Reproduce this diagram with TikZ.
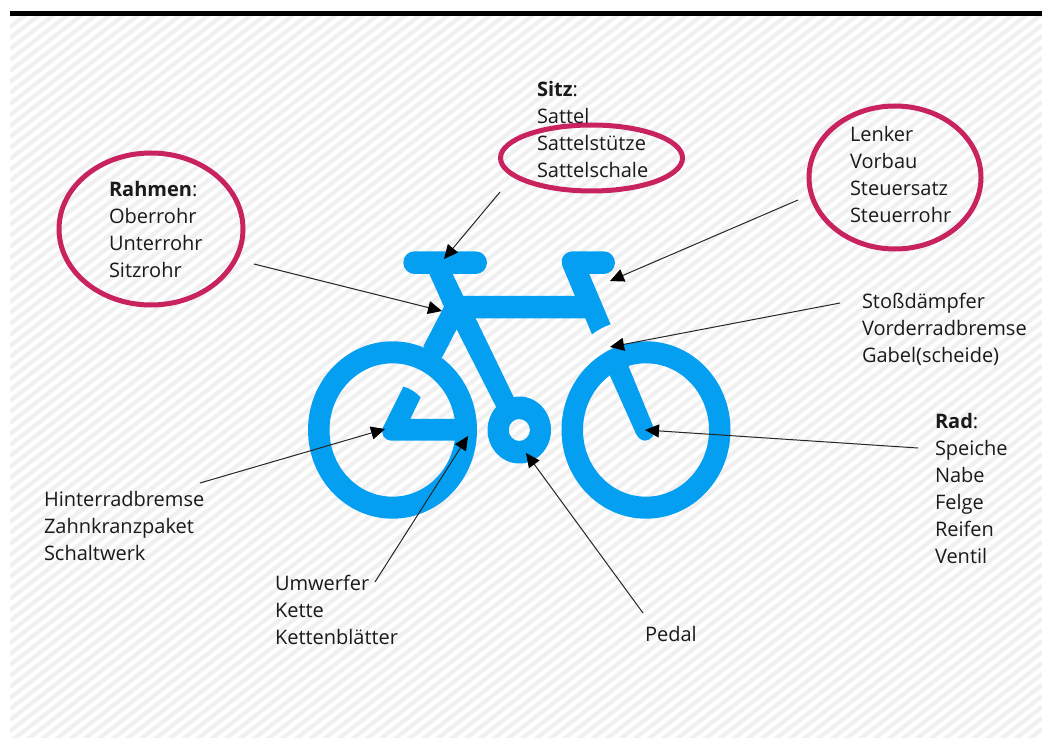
\documentclass[tikz,border=0pt]{standalone}
\usepackage{fontspec}
\setmainfont{Open Sans}
\usetikzlibrary{arrows.meta}
\definecolor{bikeblue}{HTML}{049FF1}
\definecolor{ringred}{HTML}{C8235F}
\definecolor{stripe}{HTML}{F0F0F0}
\definecolor{inktext}{HTML}{1A1A1A}
\tikzset{
  lbl/.style={anchor=north west,align=left,inner sep=0pt,outer sep=0pt,font=\fontsize{20pt}{27pt}\selectfont,text=inktext},
  ptr/.style={draw=black!85,line width=1pt,-{Triangle[length=14pt,width=13pt,color=black]}},
  ring/.style={draw=ringred,line width=5pt,fill=none},
  bike/.style={fill=bikeblue,draw=none,even odd rule},
  stripeline/.style={draw=stripe,line width=4.2pt}
}
\begin{document}
\begin{tikzpicture}[x=1pt,y=-1pt]
\useasboundingbox (0,0) rectangle (1042,738);
\fill[white] (0,0) rectangle (1042,738);
\begin{scope}
\clip (10,16) rectangle (1042,738);
\foreach \c in {16,27,...,1560}{
  \draw[stripeline] (10,\c) -- (1042,\c-805);
}
\end{scope}
\fill[black] (10,11) rectangle (1042,16);
% wheels and chainring
\fill[bike] (392.5,430) ellipse [x radius=84.5,y radius=88.7] (392.5,430) ellipse [x radius=63,y radius=66.7];
\fill[bike] (646,430) ellipse [x radius=84.5,y radius=88.7] (646,430) ellipse [x radius=63,y radius=66.7];
\fill[bike] (519.3,430) ellipse [x radius=31.7,y radius=33.5] (519.3,430) ellipse [x radius=10.6,y radius=11];
\begin{scope}[shift={(300,230)},x=0.3333pt,y=-0.3333pt]
% saddle, frame and handlebar
\fill[bike] (344,64) -- (527,64) arc[start angle=-90,end angle=90,x radius=34,y radius=34]
  -- (458,132) -- (490,198) -- (825,198) -- (788,110)
  .. controls (778,85) and (795,64) .. (820,64) -- (911,64)
  arc[start angle=-90,end angle=90,x radius=34,y radius=34]
  -- (868,132) -- (932,283) .. controls (912,290) and (893,300) .. (876,313)
  -- (856,265) -- (527,265) -- (642,503) -- (600,540) -- (588,530) -- (470,298) -- (427,381)
  -- (400,395) -- (370,349) -- (432,230) -- (388,132) -- (344,132)
  arc[start angle=90,end angle=270,x radius=34,y radius=34] -- cycle;
% rear stays
\fill[bike] (310,470) .. controls (330,475) and (348,487) .. (362,502) -- (331,567) -- (480,567) -- (480,632) -- (275,632)
  .. controls (252,632) and (240,610) .. (250,590) -- cycle;
% fork
\fill[bike] (930,437) -- (1003,600) .. controls (1012,625) and (1025,632) .. (1035,632)
  .. controls (1055,632) and (1068,612) .. (1060,590) -- (985,407) -- (960,395) -- cycle;
\end{scope}
% rings
\draw[ring] (151,229) ellipse [x radius=92,y radius=76];
\draw[ring] (591.5,158) ellipse [x radius=91,y radius=33];
\draw[ring] (895,177.5) ellipse [x radius=86,y radius=71.5];
% labels
\node[lbl] (rahmen) at (109,181) {\textbf{Rahmen}:\\Oberrohr\\Unterrohr\\Sitzrohr};
\node[lbl] (sitz) at (537,81) {\textbf{Sitz}:\\Sattel\\Sattelstütze\\Sattelschale};
\node[lbl] (lenker) at (850,126) {Lenker\\Vorbau\\Steuersatz\\Steuerrohr};
\node[lbl] (stoss) at (862,293) {Stoßdämpfer\\Vorderradbremse\\Gabel(scheide)};
\node[lbl] (rad) at (935,413) {\textbf{Rad}:\\Speiche\\Nabe\\Felge\\Reifen\\Ventil};
\node[lbl] (hinter) at (44,491) {Hinterradbremse\\Zahnkranzpaket\\Schaltwerk};
\node[lbl] (umwerfer) at (275,575) {Umwerfer\\Kette\\Kettenblätter};
\node[lbl] (pedal) at (645,626) {Pedal};
% connector ends
\coordinate (sStart) at (500,192); \coordinate (sTip) at (444,259);
\coordinate (lStart) at (798,200); \coordinate (lTip) at (610,281);
\coordinate (rStart) at (254,264); \coordinate (rTip) at (442,311);
\coordinate (gStart) at (840,303); \coordinate (gTip) at (610,347);
\coordinate (dStart) at (918,448); \coordinate (dTip) at (645,430);
\coordinate (pStart) at (643,613); \coordinate (pTip) at (526,453);
\coordinate (uStart) at (375,582); \coordinate (uTip) at (468,436);
\coordinate (hStart) at (200,483); \coordinate (hTip) at (385,429);
\draw[ptr] (sStart) -- (sTip);
\draw[ptr] (lStart) -- (lTip);
\draw[ptr] (rStart) -- (rTip);
\draw[ptr] (gStart) -- (gTip);
\draw[ptr] (dStart) -- (dTip);
\draw[ptr] (pStart) -- (pTip);
\draw[ptr] (uStart) -- (uTip);
\draw[ptr] (hStart) -- (hTip);
\end{tikzpicture}
\end{document}
